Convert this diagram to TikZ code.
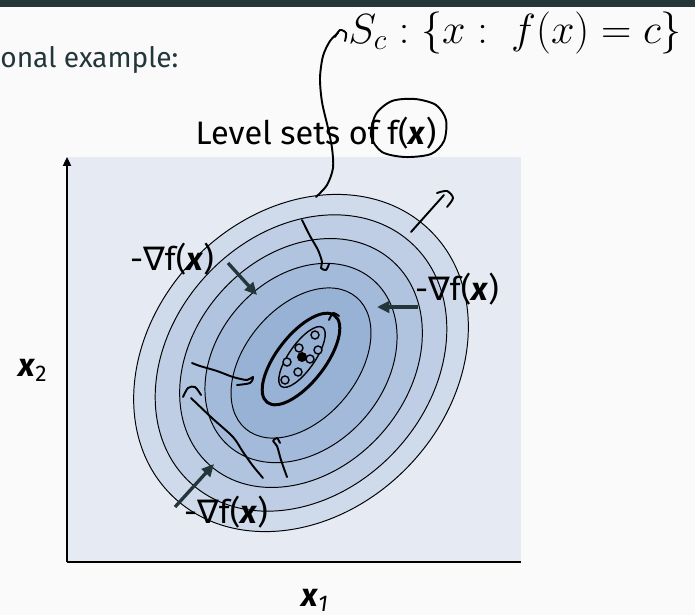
\documentclass[tikz,border=0pt]{standalone}
\usepackage{fix-cm}
\usepackage{fontspec}
\setmainfont{Fira Sans}
\newfontfamily\symfont{DejaVu Sans}
\usetikzlibrary{arrows.meta}

\definecolor{mDark}{HTML}{23373B}
\definecolor{pageBg}{HTML}{FAFAFA}
\definecolor{panelBg}{HTML}{E6EBF3}
\definecolor{levelA}{HTML}{CFDAEA}
\definecolor{levelB}{HTML}{BFCEE4}
\definecolor{levelC}{HTML}{B0C3DF}
\definecolor{levelD}{HTML}{A3BADA}
\definecolor{levelE}{HTML}{98B2D6}

\newcommand{\bx}{\textbf{\textit{x}}}
\newcommand{\negGrad}{-{\symfont ∇}f(\bx)}

\begin{document}
\begin{tikzpicture}[x=0.02cm, y=-0.02cm,
    gradArrow/.style={mDark, line width=1.9pt, -{Triangle[length=7pt, width=6.5pt]}},
    level/.style={draw=black, line width=0.55pt},
    ink/.style={black, line width=1.1pt, line cap=round, line join=round},
    dotink/.style={black, line width=0.8pt},
    every node/.style={inner sep=0pt, font=\fontsize{18.5}{22}\selectfont}
    ]
  % page, header bar and plot panel
  \useasboundingbox (0,0) rectangle (695,615);
  \fill[pageBg] (0,0) rectangle (695,615);
  \fill[mDark] (0,0) rectangle (695,7);
  \fill[panelBg] (67,157) rectangle (521,562);

  \node[anchor=base west, text=mDark, font=\fontsize{16}{19}\selectfont] (intro) at (0,68) {onal example:};

  % level sets
  \foreach \rx/\ry/\ang/\col in {185/149/46/levelA, 163/129/47/levelB, 137/107/48/levelC, 110/84/49/levelD, 86/56/50/levelE}
    \draw[level, fill=\col, rotate around={\ang:(301,363)}] (301,363) ellipse [x radius=\rx, y radius=\ry];

  % axes
  \coordinate (origin) at (67,562);
  \coordinate (yEnd) at (67,157);
  \coordinate (xEnd) at (521,562);
  \draw[line width=1.1pt, -{Triangle[length=5pt, width=4.5pt]}] (origin) -- (yEnd);
  \draw[line width=1.5pt] (origin) -- (xEnd);
  \node (xTwo) at (33,370) {\bx\textsubscript{2}};
  \node (xOne) at (315,600) {\bx\textsubscript{\textit{1}}};
  \node (title) at (316,133) {Level sets of f(\bx)};

  % negative gradients
  \coordinate (gA1) at (228,263); \coordinate (gA2) at (257,295);
  \coordinate (gB1) at (418,307); \coordinate (gB2) at (377,307);
  \coordinate (gC1) at (175,507); \coordinate (gC2) at (214,464);
  \draw[gradArrow] (gA1) -- (gA2);
  \draw[gradArrow] (gB1) -- (gB2);
  \draw[gradArrow] (gC1) -- (gC2);
  \node (gradA) at (172,259) {\negGrad};
  \node (gradB) at (457,289) {\negGrad};
  \node (gradC) at (226,512) {\negGrad};

  % hand-written notes
  \node[anchor=west, font=\fontsize{24}{28}\selectfont] (levelSet) at (348,33) {$S_c : \{x :\; f(x) = c\}$};
  \draw[ink] plot[smooth] coordinates {(316,197) (327,185) (333,168) (332,148) (328,128) (322,102) (320,78) (323,56) (330,41) (338,33)};
  \draw[ink] plot[smooth] coordinates {(335,37) (340,30) (346,33) (345,41)};
  \draw[ink] plot[smooth cycle] coordinates {(376,114) (392,101) (415,99) (436,105) (446,120) (444,141) (431,154) (405,157) (382,152) (371,136)};
  \draw[ink] (411,232) -- (444,195);
  \draw[ink] plot[smooth] coordinates {(437,193) (447,191) (453,198) (447,207)};
  \draw[ink] plot[smooth] coordinates {(302,220) (310,236) (318,250) (322,262) (321,268) (326,270) (329,264)};
  \draw[ink] plot[smooth] coordinates {(192,363) (200,366) (217,371) (233,377) (247,380) (253,377) (250,383) (237,385)};
  \draw[ink] plot[smooth] coordinates {(183,397) (188,388) (195,387) (201,395)};
  \draw[ink] plot[smooth] coordinates {(191,398) (212,418) (233,437) (243,452) (253,466) (263,478)};
  \draw[ink] plot[smooth] coordinates {(287,477) (281,460) (277,446) (273,441) (277,438) (280,443)};

  % minimum
  \draw[ink, line width=1.7pt, rotate around={52:(301,359)}] (301,359) ellipse [x radius=55, y radius=24];
  \draw[ink] plot[smooth] coordinates {(329,320) (333,313) (339,316)};
  \draw[dotink, rotate around={55:(302,357)}] (302,357) ellipse [x radius=36, y radius=13];
  \foreach \p in {(299,348), (315,335), (318,350), (287,362), (310,359), (298,372), (285,380)}
    \draw[dotink, fill=levelE] \p circle [radius=4];
  \fill (302,357) circle [radius=5];
\end{tikzpicture}
\end{document}
